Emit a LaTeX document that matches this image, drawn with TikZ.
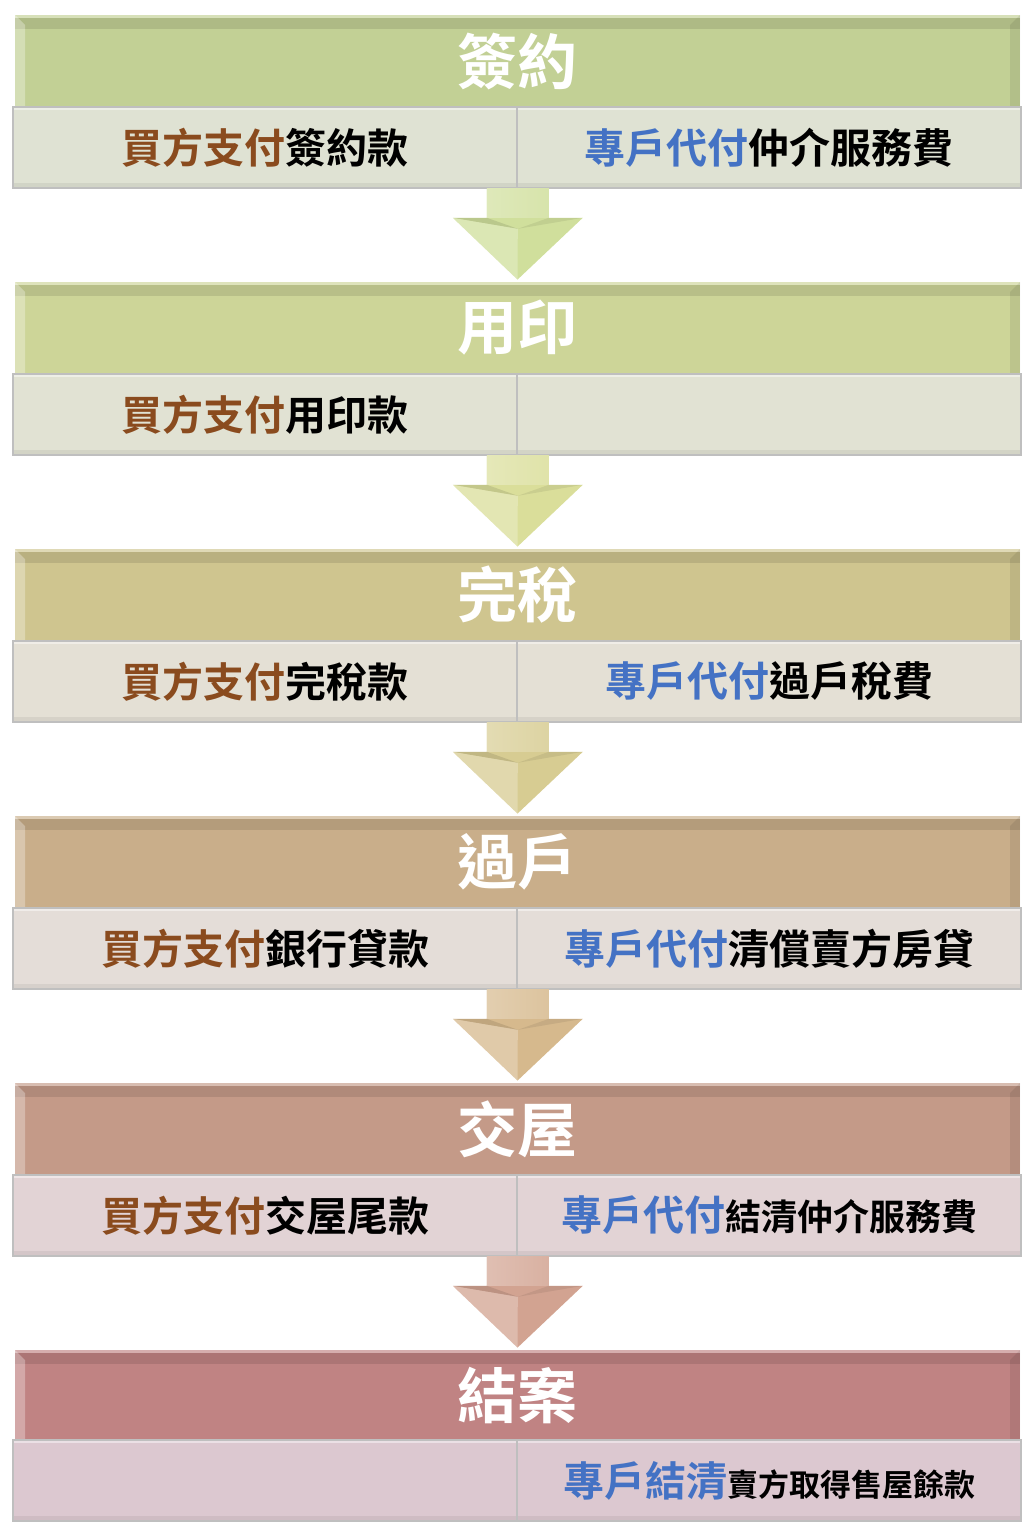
\documentclass[tikz,border=0pt]{standalone}
\usepackage{fontspec}
\setmainfont{Noto Sans CJK TC}[BoldFont={Noto Sans CJK TC Bold}]
\usepackage{tikz}
\usetikzlibrary{calc}
\definecolor{signgreen}{HTML}{C2D095}
\definecolor{stampolive}{HTML}{CDD598}
\definecolor{taxkhaki}{HTML}{CFC58F}
\definecolor{transtan}{HTML}{C9AE8A}
\definecolor{handclay}{HTML}{C49A88}
\definecolor{closerose}{HTML}{C08383}
\definecolor{cellgreen}{HTML}{DFE2D3}
\definecolor{cellolive}{HTML}{E1E2D3}
\definecolor{cellkhaki}{HTML}{E4E0D5}
\definecolor{celltan}{HTML}{E4DDD8}
\definecolor{cellclay}{HTML}{E2D3D5}
\definecolor{cellrose}{HTML}{DCC8D0}
\definecolor{arrowgreen}{HTML}{D0DF9C}
\definecolor{arrowolive}{HTML}{DADE9A}
\definecolor{arrowkhaki}{HTML}{D7CC92}
\definecolor{arrowtan}{HTML}{D6B98D}
\definecolor{arrowclay}{HTML}{D2A391}
\definecolor{buyerbrown}{HTML}{8A4B1E}
\definecolor{escrowblue}{HTML}{4472C4}
\tikzset{
  stagehead/.style={minimum width=502.5pt, minimum height=46pt, inner sep=0pt,
    text=white, font=\bfseries\fontsize{30}{30}\selectfont,
    path picture={
      \fill[black, opacity=.10] ([yshift=-1.5pt]path picture bounding box.north west) rectangle ([yshift=-7pt]path picture bounding box.north east);
      \fill[white, opacity=.35] (path picture bounding box.north west) rectangle ([yshift=-1.5pt]path picture bounding box.north east);
      \fill[white, opacity=.30] (path picture bounding box.north west) -- ++(5pt,-5pt) -- ([xshift=5pt]path picture bounding box.south west) -- (path picture bounding box.south west) -- cycle;
      \fill[black, opacity=.08] (path picture bounding box.north east) -- ++(-5pt,-5pt) -- ([xshift=-5pt]path picture bounding box.south east) -- (path picture bounding box.south east) -- cycle;
    }},
  stagecell/.style={minimum width=252pt, minimum height=40.5pt, inner sep=0pt,
    draw=black!25, line width=0.8pt, font=\bfseries\fontsize{20.5}{20.5}\selectfont,
    path picture={
      \fill[white, opacity=.45] (path picture bounding box.north west) rectangle ([yshift=-1.5pt]path picture bounding box.north east);
      \fill[black, opacity=.06] ([yshift=2.5pt]path picture bounding box.south west) rectangle (path picture bounding box.south east);
    }}
}
% block arrow from the cell seam down to the next header
\newcommand{\stagearrow}[3]{%
  \fill[#3] ($(#1)+(-31,0)$) -- ($(#1)+(31,0)$) -- ($(#1)+(31,29)$) -- ($(#1)+(65,29)$)
    -- ($(#2)+(0,-2)$) -- ($(#1)+(-65,29)$) -- ($(#1)+(-31,29)$) -- cycle;
  % shaft
  \shade[left color=#3!70!white, middle color=#3!93!black, right color=#3!85!white]
    ($(#1)+(-31,0)$) rectangle ($(#1)+(31,29)$);
  % head facets
  \fill[white, opacity=.25] ($(#1)+(-65,29)$) -- ($(#1)+(0,40)$) -- ($(#2)+(0,-2)$) -- cycle;
  \fill[black, opacity=.10] ($(#1)+(-65,29)$) -- ($(#1)+(-31,29)$) -- ($(#1)+(0,40)$) -- cycle;
  \fill[black, opacity=.07] ($(#1)+(65,29)$) -- ($(#1)+(31,29)$) -- ($(#1)+(0,40)$) -- cycle;
}
\begin{document}
\begin{tikzpicture}[x=0.5pt, y=-0.5pt]
  \useasboundingbox (0,0) rectangle (1036,1540);
  % Signing
  \node[stagehead, fill=signgreen]  (head1) at (517.5,61)   {簽約};
  \node[stagecell, fill=cellgreen]  (left1) at (265,147.5)  {\textcolor{buyerbrown}{買方支付}簽約款};
  \node[stagecell, fill=cellgreen]  (right1) at (769,147.5) {\textcolor{escrowblue}{專戶代付}仲介服務費};
  % Stamping
  \node[stagehead, fill=stampolive] (head2) at (517.5,328)  {用印};
  \node[stagecell, fill=cellolive]  (left2) at (265,414.5)  {\textcolor{buyerbrown}{買方支付}用印款};
  \node[stagecell, fill=cellolive]  (right2) at (769,414.5) {};
  % Tax paid
  \node[stagehead, fill=taxkhaki]   (head3) at (517.5,595)  {完稅};
  \node[stagecell, fill=cellkhaki]  (left3) at (265,681.5)  {\textcolor{buyerbrown}{買方支付}完稅款};
  \node[stagecell, fill=cellkhaki]  (right3) at (769,681.5) {\textcolor{escrowblue}{專戶代付}過戶稅費};
  % Transfer
  \node[stagehead, fill=transtan]   (head4) at (517.5,862)  {過戶};
  \node[stagecell, fill=celltan]    (left4) at (265,948.5)  {\textcolor{buyerbrown}{買方支付}銀行貸款};
  \node[stagecell, fill=celltan]    (right4) at (769,948.5) {\textcolor{escrowblue}{專戶代付}清償賣方房貸};
  % Handover
  \node[stagehead, fill=handclay]   (head5) at (517.5,1129) {交屋};
  \node[stagecell, fill=cellclay]   (left5) at (265,1215.5) {\textcolor{buyerbrown}{買方支付}交屋尾款};
  \node[stagecell, fill=cellclay]   (right5) at (769,1215.5) {\textcolor{escrowblue}{專戶代付}{\fontsize{18}{18}\selectfont 結清仲介服務費}};
  % Closing
  \node[stagehead, fill=closerose]  (head6) at (517.5,1396) {結案};
  \node[stagecell, fill=cellrose]   (left6) at (265,1480.5) {};
  \node[stagecell, fill=cellrose]   (right6) at (769,1480.5) {\textcolor{escrowblue}{專戶結清}{\fontsize{15.5}{15.5}\selectfont 賣方取得售屋餘款}};
  % Arrows between stages
  \stagearrow{left1.south east}{head2.north}{arrowgreen}
  \stagearrow{left2.south east}{head3.north}{arrowolive}
  \stagearrow{left3.south east}{head4.north}{arrowkhaki}
  \stagearrow{left4.south east}{head5.north}{arrowtan}
  \stagearrow{left5.south east}{head6.north}{arrowclay}
\end{tikzpicture}
\end{document}
